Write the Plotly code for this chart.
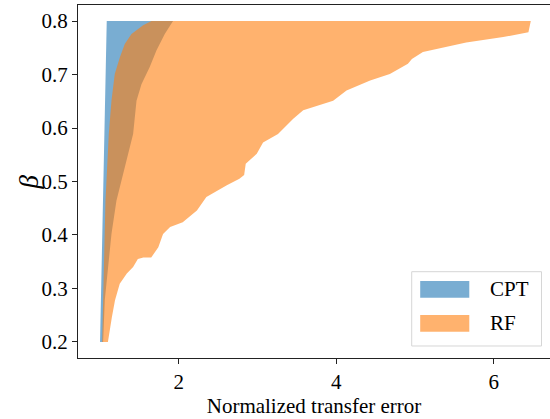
import plotly.graph_objects as go

# CPT band (lower / upper edge of normalized transfer error vs beta)
cpt_lo_beta = [0.20, 0.50, 0.80]
cpt_lo = [1.00, 1.04, 1.085]
cpt_hi_beta = [0.200, 0.278, 0.339, 0.402, 0.464, 0.526, 0.589, 0.651, 0.682, 0.714, 0.745, 0.776, 0.800]
cpt_hi = [1.039, 1.060, 1.102, 1.145, 1.208, 1.314, 1.420, 1.463, 1.526, 1.631, 1.716, 1.822, 1.927]

# RF band
rf_lo_beta = [0.200, 0.339, 0.464, 0.526, 0.589, 0.651, 0.701, 0.732, 0.757, 0.776, 0.792, 0.800]
rf_lo = [1.027, 1.048, 1.069, 1.090, 1.111, 1.145, 1.187, 1.251, 1.314, 1.399, 1.547, 1.653]
rf_hi_beta = [0.200, 0.246, 0.278, 0.309, 0.328, 0.340, 0.355, 0.358, 0.358, 0.377, 0.402, 0.415,
              0.424, 0.446, 0.471, 0.493, 0.505, 0.512, 0.533, 0.552, 0.573, 0.589, 0.617, 0.633,
              0.651, 0.670, 0.689, 0.701, 0.720, 0.729, 0.742, 0.760, 0.770, 0.779, 0.800]
rf_hi = [1.10, 1.15, 1.19, 1.25, 1.34, 1.42, 1.48, 1.55, 1.65, 1.74, 1.80, 1.89,
         2.05, 2.23, 2.35, 2.61, 2.77, 2.83, 2.85, 2.99, 3.07, 3.26, 3.45, 3.58,
         3.96, 4.13, 4.43, 4.68, 4.91, 4.96, 5.10, 5.65, 6.12, 6.44, 6.47]

labels = ["CPT", "RF"]
fills = ["rgba(31,119,180,0.6)", "rgba(255,127,14,0.6)"]

FONT = "Liberation Serif, Times New Roman, serif"

fig = go.Figure()
bands = [(cpt_lo_beta, cpt_lo, cpt_hi_beta, cpt_hi), (rf_lo_beta, rf_lo, rf_hi_beta, rf_hi)]
for (lb, lx, hb, hx), name, col in zip(bands, labels, fills):
    fig.add_trace(go.Scatter(
        x=lx + hx[::-1], y=lb + hb[::-1],
        fill="toself", fillcolor=col, mode="lines", line=dict(width=0),
        name=name, showlegend=False, hoverinfo="skip"))

# legend drawn by hand to get matplotlib-like swatches
fig.add_shape(type="rect", xref="paper", yref="paper", x0=0.707, x1=0.982, y0=0.034, y1=0.2445,
              line=dict(color="#d6d6d6", width=1), fillcolor="rgba(255,255,255,0.8)")
sw_y = [(0.171, 0.218), (0.0745, 0.122)]
for (y0, y1), name, col in zip(sw_y, labels, fills):
    fig.add_shape(type="rect", xref="paper", yref="paper", x0=0.725, x1=0.829, y0=y0, y1=y1,
                  line=dict(width=0), fillcolor=col)
    fig.add_annotation(xref="paper", yref="paper", x=0.8686, y=(y0 + y1) / 2, text=name,
                       showarrow=False, xanchor="left", yanchor="middle",
                       font=dict(family=FONT, size=21, color="black"))

# y axis title as an annotation so it can sit close to the tick labels
fig.add_annotation(xref="paper", yref="paper", x=-0.104, y=0.5, text="<i>β</i>",
                   textangle=-90, showarrow=False, xanchor="center", yanchor="middle",
                   font=dict(family=FONT, size=27, color="black"))

fig.update_layout(
    width=550, height=419,
    margin=dict(l=78, r=0, t=5, b=61),
    plot_bgcolor="white", paper_bgcolor="white",
    font=dict(family=FONT, size=21, color="black"),
)
fig.update_xaxes(
    range=[0.72, 6.714], tickvals=[2, 4, 6], showgrid=False, zeroline=False,
    showline=True, linecolor="#222", linewidth=1, mirror=True, automargin=False,
    ticks="outside", ticklen=5, tickcolor="#222", tickfont=dict(family=FONT, size=21),
    title=dict(text="Normalized transfer error", standoff=2, font=dict(family=FONT, size=21)),
)
fig.update_yaxes(
    range=[0.17, 0.83], tickvals=[0.2, 0.3, 0.4, 0.5, 0.6, 0.7, 0.8], tickformat=".1f",
    showgrid=False, zeroline=False, showline=True, linecolor="#222", linewidth=1,
    automargin=False, ticks="outside", ticklen=5, tickcolor="#222",
    tickfont=dict(family=FONT, size=21),
)

# the page body has a default 8px margin; remove it so the figure sits at the window corner
fig.write_html("out.html", config={"displayModeBar": False},
               post_script="document.body.style.margin='0px';")
